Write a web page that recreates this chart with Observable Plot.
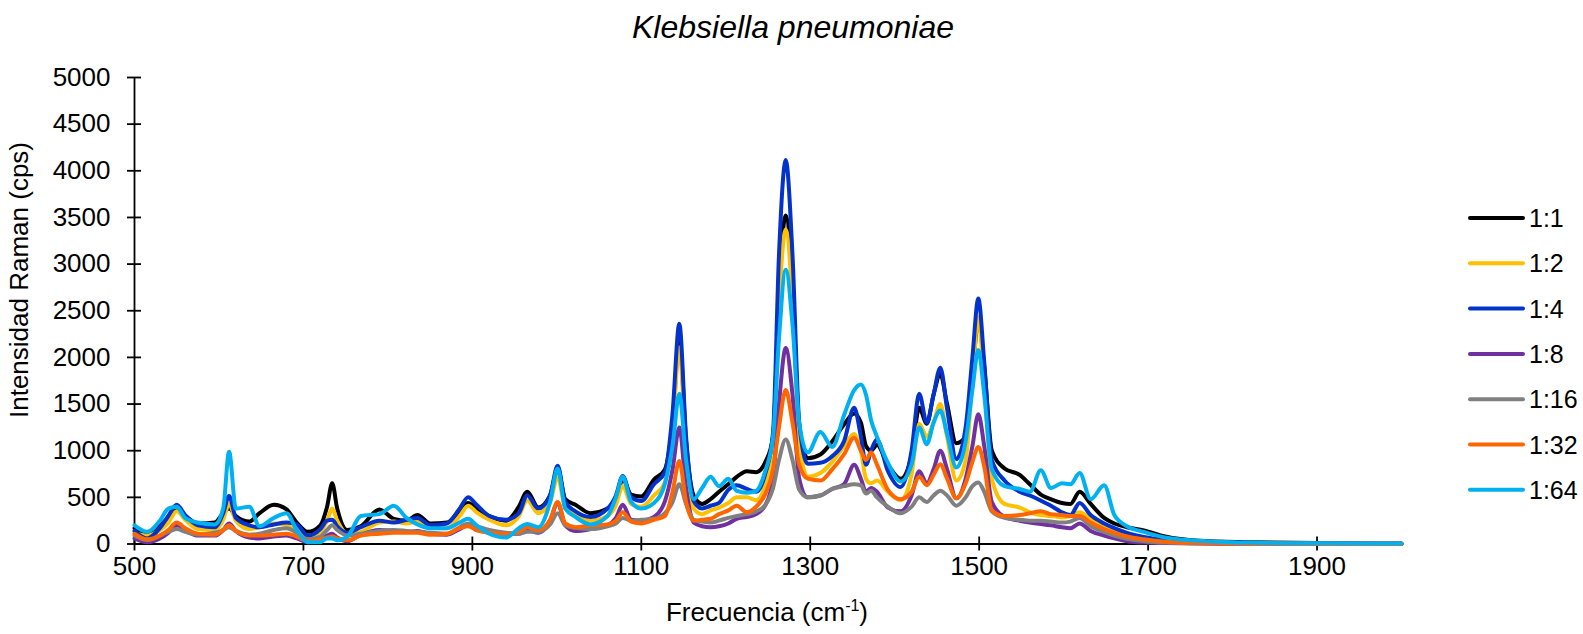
<!DOCTYPE html>
<html><head><meta charset="utf-8">
<script src="https://cdn.jsdelivr.net/npm/d3@7"></script>
<script src="https://cdn.jsdelivr.net/npm/@observablehq/plot@0.6"></script>
<style>
html,body{margin:0;padding:0;background:#fff;}
#chart{position:relative;width:1583px;height:634px;}
#chart svg{display:block;}
#overlay{position:absolute;left:0;top:0;}
</style></head><body><div id="chart"></div>
<script>
const chartTitle = "Klebsiella pneumoniae";
const yTitle = "Intensidad Raman (cps)";
const seriesNames = ["1:1", "1:2", "1:4", "1:8", "1:16", "1:32", "1:64"];
const seriesColors = ["#000000", "#FFC000", "#0433CC", "#7030A0", "#808080", "#FF6600", "#00B0F0"];
const xTicks = [500, 700, 900, 1100, 1300, 1500, 1700, 1900];
const yTicks = [0, 500, 1000, 1500, 2000, 2500, 3000, 3500, 4000, 4500, 5000];

const freq = [500, 515, 530, 540, 550, 560, 575, 595, 605, 612,
 620, 636, 648, 665, 680, 692, 705, 720, 728, 734,
 740, 752, 768, 790, 807, 822, 835, 850, 870, 885,
 895, 905, 920, 940, 955, 965, 978, 992, 1001, 1010,
 1022, 1040, 1060, 1070, 1078, 1088, 1100, 1115, 1128, 1137,
 1145, 1153, 1162, 1172, 1182, 1192, 1203, 1213, 1225, 1236,
 1247, 1256, 1263, 1271, 1279, 1287, 1297, 1312, 1326, 1340,
 1352, 1360, 1366, 1372, 1379, 1392, 1407, 1420, 1429, 1438,
 1446, 1454, 1462, 1473, 1484, 1492, 1499, 1506, 1515, 1530,
 1548, 1560, 1573, 1585, 1598, 1608, 1619, 1632, 1648, 1660,
 1675, 1695, 1720, 1760, 1820, 1900, 2000];

const s1_1 = [170, 110, 200, 280, 360, 300, 220, 230, 330, 380,
 300, 240, 330, 420, 370, 230, 130, 200, 400, 650,
 380, 150, 190, 370, 270, 250, 310, 220, 230, 360,
 440, 380, 300, 250, 400, 560, 390, 520, 800, 480,
 420, 330, 380, 480, 690, 530, 510, 690, 800, 1300,
 2200, 1100, 520, 430, 480, 560, 640, 720, 780, 770,
 880, 1150, 2700, 3520, 2750, 1250, 920, 960, 1100, 1280,
 1400, 1300, 1050, 1000, 1060, 850, 700, 950, 1460, 1290,
 1600, 1820, 1500, 1080, 1150, 1800, 2400, 1900, 1000, 810,
 740, 640, 530, 480, 440, 430, 560, 430, 280, 220,
 180, 145, 80, 35, 20, 10, 5];

const s1_2 = [120, 90, 150, 230, 350, 260, 160, 150, 260, 430,
 250, 160, 180, 220, 200, 150, 80, 130, 250, 380,
 250, 110, 130, 230, 240, 220, 240, 180, 170, 300,
 410, 340, 260, 200, 300, 470, 330, 450, 720, 380,
 320, 250, 300, 420, 620, 430, 400, 520, 660, 1200,
 2110, 1000, 380, 320, 360, 390, 440, 500, 500, 470,
 640, 1050, 2550, 3370, 2600, 1100, 720, 760, 880, 1050,
 1180, 1000, 700, 650, 680, 560, 470, 750, 1290, 1150,
 1300, 1500, 1150, 680, 900, 1750, 2430, 1700, 700, 430,
 390, 340, 310, 300, 285, 300, 340, 270, 190, 140,
 100, 70, 40, 20, 10, 5, 3];

const s1_4 = [140, 60, 170, 300, 420, 310, 200, 180, 330, 515,
 280, 200, 180, 210, 230, 210, 90, 160, 250, 260,
 190, 120, 180, 250, 230, 260, 280, 200, 220, 380,
 500, 420, 300, 260, 330, 520, 380, 520, 840, 450,
 350, 290, 380, 520, 730, 500, 460, 640, 770, 1400,
 2360, 1150, 460, 380, 410, 440, 580, 630, 590, 560,
 760, 1200, 3100, 4115, 3100, 1300, 860, 870, 940, 1100,
 1460, 1150, 850, 1000, 1120, 780, 610, 1000, 1610, 1300,
 1600, 1890, 1450, 910, 1250, 2000, 2630, 1950, 900, 680,
 560, 520, 465, 410, 340, 310, 440, 310, 220, 170,
 120, 75, 40, 20, 10, 5, 3];

const s1_8 = [60, 20, 60, 120, 200, 150, 90, 90, 150, 220,
 140, 70, 60, 80, 90, 60, 20, 50, 90, 110,
 70, 30, 100, 150, 140, 130, 140, 110, 100, 160,
 200, 150, 130, 110, 110, 150, 120, 250, 440, 200,
 140, 160, 200, 280, 420, 260, 250, 290, 460, 800,
 1250, 600, 230, 190, 180, 190, 220, 270, 290, 320,
 420, 700, 1500, 2100, 1600, 700, 500, 520, 590, 640,
 850, 700, 560, 600, 560, 390, 350, 520, 780, 650,
 800, 1000, 800, 490, 700, 1050, 1390, 1050, 450, 290,
 250, 230, 215, 200, 180, 170, 220, 140, 90, 60,
 30, 15, 10, 5, 3, 2, 1];

const s1_16 = [90, 40, 90, 130, 160, 130, 100, 120, 150, 180,
 140, 100, 110, 150, 170, 120, 50, 80, 150, 200,
 150, 90, 110, 140, 150, 140, 130, 120, 110, 180,
 220, 190, 150, 120, 110, 130, 130, 210, 330, 200,
 170, 160, 190, 220, 280, 250, 260, 270, 330, 450,
 640, 430, 260, 240, 230, 250, 280, 300, 320, 350,
 420, 600, 900, 1120, 900, 580, 500, 520, 590, 620,
 640, 630, 540, 570, 500, 400, 330, 400, 500, 450,
 520, 570, 520, 410, 500, 620, 660, 560, 350, 280,
 260, 250, 250, 240, 230, 240, 280, 190, 130, 90,
 55, 30, 15, 8, 4, 2, 1];

const s1_32 = [110, 50, 90, 150, 230, 170, 110, 100, 150, 200,
 140, 90, 90, 100, 110, 80, 30, 50, 70, 80,
 60, 40, 90, 110, 120, 120, 120, 100, 110, 170,
 190, 150, 120, 110, 130, 180, 150, 260, 450, 220,
 180, 200, 210, 250, 340, 240, 220, 260, 300, 560,
 890, 450, 250, 260, 270, 320, 360, 410, 340, 400,
 540, 800, 1250, 1650, 1300, 850, 700, 680, 800, 960,
 1140, 1000, 900, 980, 850, 580, 480, 560, 720, 630,
 740, 855, 700, 490, 650, 880, 1040, 830, 360, 300,
 310, 330, 350, 320, 310, 300, 300, 230, 160, 120,
 80, 50, 25, 12, 6, 3, 2];

const s1_64 = [200, 130, 250, 380, 400, 280, 230, 210, 380, 990,
 380, 400, 190, 280, 330, 150, 20, 20, 60, 60,
 40, 80, 300, 320, 410, 280, 210, 170, 170, 230,
 270, 200, 110, 70, 170, 215, 180, 450, 810, 380,
 290, 210, 300, 500, 720, 450, 380, 440, 650, 1050,
 1610, 900, 480, 600, 720, 620, 700, 570, 550, 570,
 790, 1150, 2200, 2940, 2350, 1300, 980, 1200, 1040, 1380,
 1650, 1710, 1600, 1330, 1150, 870, 670, 850, 1250, 1070,
 1300, 1430, 1180, 820, 1100, 1650, 2080, 1600, 800, 620,
 590, 560, 790, 600, 650, 640, 760, 480, 630, 310,
 190, 130, 70, 35, 15, 8, 5];

const seriesValues = [s1_1, s1_2, s1_4, s1_8, s1_16, s1_32, s1_64];
seriesValues.forEach((s, i) => { if (s.length !== freq.length) throw new Error(seriesNames[i] + " length " + s.length + " vs " + freq.length); });

const rows = seriesNames.flatMap((name, i) => freq.map((f, j) => ({name, f, v: seriesValues[i][j]})));

const FONT = '"Liberation Sans", Arial, sans-serif';
const fmt = d => String(d);

const plot = Plot.plot({
  width: 1583, height: 634,
  marginTop: 77, marginBottom: 90.5, marginLeft: 134, marginRight: 182,
  style: {fontFamily: FONT, color: "#000", background: "#fff", overflow: "visible"},
  x: {domain: [500, 2000]},
  y: {domain: [0, 5000]},
  color: {domain: seriesNames, range: seriesColors},
  marks: [
    Plot.axisX({ticks: xTicks, tickSize: 14, dy: -7, tickFormat: () => "", label: null, strokeWidth: 1.8}),
    Plot.axisX({ticks: xTicks, tickSize: 0, tickPadding: 13, tickFormat: fmt, fontSize: 26, label: null}),
    Plot.axisY({ticks: yTicks, tickSize: 14, dx: 7, tickFormat: () => "", label: null, strokeWidth: 1.8}),
    Plot.axisY({ticks: yTicks, tickSize: 0, tickPadding: 24, tickFormat: fmt, fontSize: 26, label: null}),
    Plot.ruleY([0], {strokeWidth: 1.8}),
    Plot.ruleX([500], {strokeWidth: 1.8}),
    Plot.line(rows, {x: "f", y: "v", z: "name", stroke: "name", strokeWidth: 4, curve: "monotone-x"})
  ]
});
const chart = document.getElementById("chart");
chart.appendChild(plot);

const ov = d3.select("#chart").append("svg").attr("id", "overlay")
  .attr("width", 1583).attr("height", 634).style("font-family", FONT);
ov.append("text").attr("x", 793).attr("y", 38).attr("text-anchor", "middle")
  .attr("font-size", 32).attr("font-style", "italic").text(chartTitle);
ov.append("text").attr("transform", "translate(28,280) rotate(-90)").attr("text-anchor", "middle")
  .attr("font-size", 26).text(yTitle);
const xt = ov.append("text").attr("x", 767).attr("y", 621).attr("text-anchor", "middle").attr("font-size", 26);
xt.append("tspan").text("Frecuencia (cm");
xt.append("tspan").attr("font-size", 16).attr("dy", -10).text("-1");
xt.append("tspan").attr("dy", 10).text(")");

seriesNames.forEach((n, i) => {
  const y = 218 + i * 45.3;
  ov.append("line").attr("x1", 1470).attr("x2", 1523).attr("y1", y).attr("y2", y)
    .attr("stroke", seriesColors[i]).attr("stroke-width", 4).attr("stroke-linecap", "round");
  ov.append("text").attr("x", 1529).attr("y", y + 9).attr("font-size", 25).text(n);
});
</script></body></html>
